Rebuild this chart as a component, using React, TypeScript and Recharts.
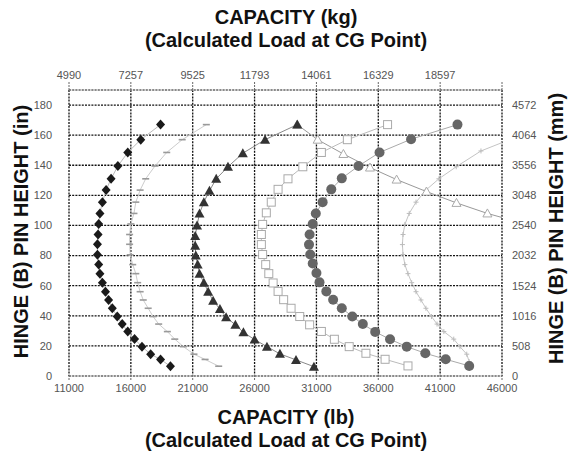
import React from "react";
import { ScatterChart, Scatter, XAxis, YAxis, CartesianGrid } from "recharts";

// axes
const lbTicks = [11000, 16000, 21000, 26000, 31000, 36000, 41000, 46000];
const kgLabels = ["4990", "7257", "9525", "11793", "14061", "16329", "18597", ""];
const inTicks = [0, 20, 40, 60, 80, 100, 120, 140, 160, 180];
const mmLabels = ["0", "508", "1016", "1524", "2032", "2540", "3048", "3556", "4064", "4572"];

// series (x = capacity lb, y = pin height in)
const diamondX = [18400, 16800, 15750, 14950, 14400, 14000, 13700, 13500, 13400, 13350, 13300, 13300, 13400, 13500, 13700, 13950, 14200, 14500, 14900, 15300, 15750, 16300, 16900, 17600, 18400, 19200];
const diamondY = [167, 157, 148.5, 139.5, 131, 123.5, 115.5, 108, 101, 94, 87.5, 80.5, 74, 68, 62, 56, 50.5, 45, 39.5, 34.5, 29.5, 24.5, 19.5, 14.5, 11, 6.5];

const dashX = [22100, 20150, 18900, 17950, 17200, 16750, 16400, 16250, 16000, 15900, 15900, 15950, 16150, 16400, 16550, 16750, 17000, 17400, 17800, 18250, 18950, 19550, 20250, 21100, 22000, 23100];
const dashY = [167, 157, 148.5, 139.5, 131, 123.5, 115.5, 108, 101, 94, 87.5, 80.5, 74, 68, 62, 56, 50.5, 45, 39.5, 34.5, 29.5, 24.5, 19.5, 14.5, 11, 6.5];

const triX = [29450, 26850, 25050, 23850, 22900, 22350, 21900, 21550, 21350, 21200, 21200, 21250, 21400, 21550, 21900, 22250, 22650, 23200, 23700, 24450, 25100, 26000, 27000, 28050, 29350, 30800];
const triY = [167, 157, 148, 139, 131, 123, 115.5, 108, 100, 93, 86.5, 80, 74, 68, 62, 56, 50, 44.5, 39, 34, 29, 24.2, 19.5, 14.7, 10.7, 6.2];

const squareX = [36750, 33500, 31400, 29900, 28700, 27900, 27350, 26950, 26650, 26550, 26550, 26650, 26900, 27150, 27500, 27900, 28350, 28950, 29650, 30450, 31400, 32450, 33650, 35000, 36550, 38400];
const squareY = [167, 157, 148.5, 139, 131, 124, 115.5, 108.4, 100.7, 94, 87.3, 80.7, 74, 68, 61.8, 56.2, 50.7, 45, 39.5, 34, 29.6, 24.4, 19.5, 15.1, 11.1, 6.7];

const circleX = [42400, 38650, 36100, 34400, 33050, 32200, 31500, 30950, 30700, 30450, 30400, 30500, 30700, 31000, 31250, 31800, 32350, 33050, 33900, 34750, 35750, 36950, 38300, 39800, 41450, 43350];
const circleY = [167, 157.3, 148.5, 139.5, 131.3, 124, 115.5, 108, 101, 94, 87.3, 80.7, 74.7, 68.4, 62.2, 56.2, 50.7, 45, 39.5, 34.5, 29.3, 24.4, 19.5, 15.1, 11.1, 6.7];

const plusX = [46600, 44300, 42300, 40900, 39850, 39050, 38500, 38150, 38000, 37950, 38000, 38150, 38400, 38700, 39050, 39450, 39850, 40300, 40750, 41300, 42100, 42600, 43150, 43350];
const plusY = [157, 149.5, 139, 131, 123.5, 115.5, 108, 100.7, 94, 87.3, 80.7, 74, 68, 62, 56, 50.5, 45, 39.5, 34.5, 29.5, 24.5, 19.5, 14.5, 9.5];

const openTriX = [29450, 31100, 33180, 35330, 37480, 39900, 42320, 44820, 47000];
const openTriY = [167, 157, 147.5, 138.5, 130.5, 122.5, 115, 108, 103];

const pts = (xs: number[], ys: number[]) => xs.map((x, i) => ({ x, y: ys[i] }));

const Diamond = (p: any) => (
  <path d={`M${p.cx},${p.cy - 5}L${p.cx + 4.5},${p.cy}L${p.cx},${p.cy + 5}L${p.cx - 4.5},${p.cy}Z`} fill="#1a1a1a" />
);
const Dash = (p: any) => <rect x={p.cx - 3.5} y={p.cy - 0.8} width={7} height={1.6} fill="#9a9a9a" />;
const Tri = (p: any) => (
  <path d={`M${p.cx},${p.cy - 5}L${p.cx + 5},${p.cy + 4}L${p.cx - 5},${p.cy + 4}Z`} fill="#333" />
);
const OpenTri = (p: any) => (
  <path d={`M${p.cx},${p.cy - 4.5}L${p.cx + 4.5},${p.cy + 3.5}L${p.cx - 4.5},${p.cy + 3.5}Z`} fill="#fff" stroke="#aaa" strokeWidth={1} />
);
const Dot = (p: any) => <circle cx={p.cx} cy={p.cy} r={5} fill="#666" />;
const Square = (p: any) => (
  <rect x={p.cx - 4} y={p.cy - 4} width={8} height={8} fill="#fff" stroke="#aaa" strokeWidth={1} />
);
const Plus = (p: any) => (
  <path d={`M${p.cx - 2.5},${p.cy}H${p.cx + 2.5}M${p.cx},${p.cy - 2.5}V${p.cy + 2.5}`} stroke="#bbb" strokeWidth={1} />
);

const tickStyle = { fontFamily: "Liberation Sans, Arial, sans-serif", fontSize: 11, fill: "#555" };
const titleStyle: React.CSSProperties = {
  position: "absolute",
  fontFamily: "Liberation Sans, Arial, sans-serif",
  fontWeight: "bold",
  fontSize: 20,
  lineHeight: "23px",
  color: "#111",
  textAlign: "center",
  whiteSpace: "nowrap",
};

export default function App() {
  return (
    <div style={{ position: "absolute", left: 0, top: 0, width: 572, height: 459, background: "#fff" }}>
      <ScatterChart width={572} height={459} margin={{ top: 60, right: 0, bottom: 53, left: 0 }}>
        <CartesianGrid stroke="#111" strokeWidth={1.3} strokeDasharray="2 1.2" />
        <XAxis
          type="number"
          dataKey="x"
          domain={[11000, 46000]}
          ticks={lbTicks}
          allowDataOverflow
          height={30}
          tick={tickStyle}
          tickSize={4}
          tickMargin={4}
          axisLine={{ stroke: "#ccc" }}
          tickLine={{ stroke: "#666", strokeDasharray: "2 1" }}
        />
        <XAxis
          xAxisId="top"
          orientation="top"
          type="number"
          dataKey="x"
          domain={[11000, 46000]}
          ticks={lbTicks}
          allowDataOverflow
          height={30}
          tick={tickStyle}
          tickSize={8}
          tickMargin={3}
          tickFormatter={(v: number) => kgLabels[lbTicks.indexOf(v)]}
          axisLine={{ stroke: "#ccc" }}
          tickLine={{ stroke: "#666", strokeDasharray: "2 1" }}
        />
        <YAxis
          type="number"
          dataKey="y"
          domain={[0, 190]}
          ticks={inTicks}
          allowDataOverflow
          width={69}
          tick={tickStyle}
          tickSize={0}
          tickMargin={17}
          axisLine={false}
          tickLine={false}
        />
        <YAxis
          yAxisId="right"
          orientation="right"
          type="number"
          dataKey="y"
          domain={[0, 190]}
          ticks={inTicks}
          allowDataOverflow
          width={70}
          tick={tickStyle}
          tickSize={0}
          tickMargin={10}
          tickFormatter={(v: number) => mmLabels[inTicks.indexOf(v)]}
          axisLine={false}
          tickLine={false}
        />
        <Scatter data={pts(plusX, plusY)} xAxisId="top" yAxisId="right" shape={Plus} line={{ stroke: "#c4c4c4", strokeWidth: 1 }} isAnimationActive={false} />
        <Scatter data={pts(openTriX, openTriY)} shape={OpenTri} line={{ stroke: "#999", strokeWidth: 1 }} isAnimationActive={false} />
        <Scatter data={pts(squareX, squareY)} shape={Square} line={{ stroke: "#bbb", strokeWidth: 1 }} isAnimationActive={false} />
        <Scatter data={pts(circleX, circleY)} shape={Dot} line={{ stroke: "#aaa", strokeWidth: 1 }} isAnimationActive={false} />
        <Scatter data={pts(dashX, dashY)} shape={Dash} line={{ stroke: "#ccc", strokeWidth: 1 }} isAnimationActive={false} />
        <Scatter data={pts(triX, triY)} shape={Tri} line={{ stroke: "#888", strokeWidth: 1 }} isAnimationActive={false} />
        <Scatter data={pts(diamondX, diamondY)} shape={Diamond} line={{ stroke: "#bbb", strokeWidth: 1 }} isAnimationActive={false} />
      </ScatterChart>

      <div style={{ ...titleStyle, left: 0, top: 6, width: 572 }}>
        CAPACITY (kg)
        <br />
        (Calculated Load at CG Point)
      </div>
      <div style={{ ...titleStyle, left: 0, top: 406, width: 572 }}>
        CAPACITY (lb)
        <br />
        (Calculated Load at CG Point)
      </div>
      <div style={{ ...titleStyle, left: 21 - 150, top: 231 - 11.5, width: 300, transform: "rotate(-90deg)" }}>
        HINGE (B) PIN HEIGHT (in)
      </div>
      <div style={{ ...titleStyle, left: 556 - 150, top: 228 - 11.5, width: 300, transform: "rotate(-90deg)" }}>
        HINGE (B) PIN HEIGHT (mm)
      </div>
    </div>
  );
}
